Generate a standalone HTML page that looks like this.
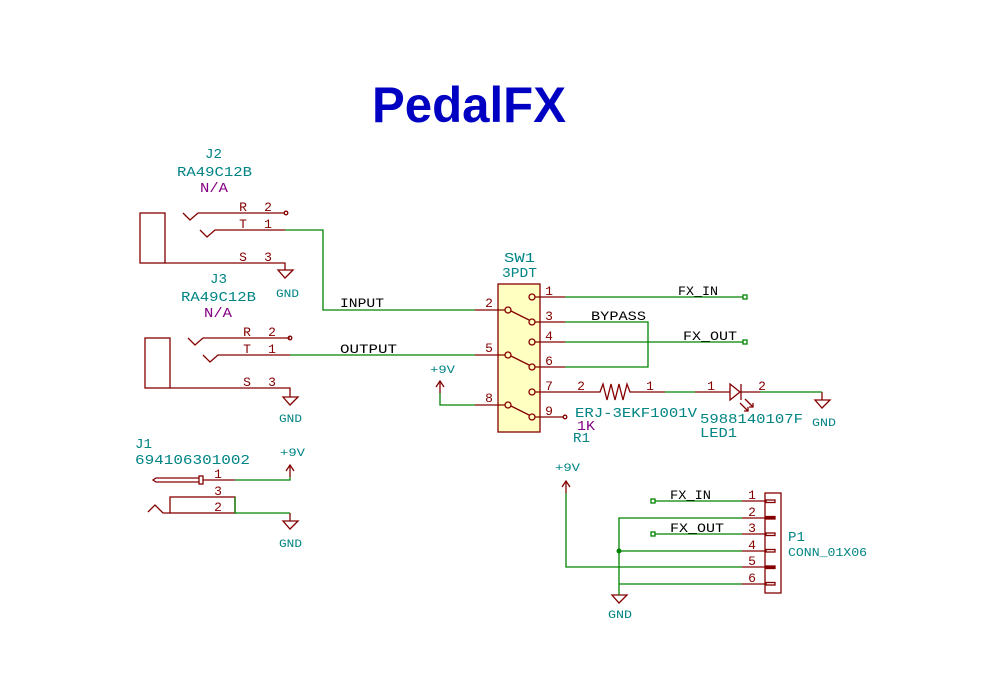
<!DOCTYPE html>
<html><head><meta charset="utf-8"><style>
html,body{margin:0;padding:0;background:#fff}
svg{display:block}
text{font-family:"Liberation Mono","DejaVu Sans Mono",monospace}
</style></head><body>
<svg width="996" height="695" viewBox="0 0 996 695" xmlns="http://www.w3.org/2000/svg">
<g fill="none" stroke-width="1.3">
<g stroke="#840000">
<rect x="140" y="213" width="25" height="50"/>
<polyline points="183,213 190,220 198,213 285,213"/>
<polyline points="200,230 207,237 215,230 285,230"/>
<polyline points="165,263 285,263 285,270"/>
<polygon points="278,270 293,270 285,278"/>
<circle cx="286" cy="213" r="1.8"/>
</g>
<g stroke="#840000">
<rect x="145" y="338" width="25" height="50"/>
<polyline points="188,338 195,345 203,338 290,338"/>
<polyline points="203,355 210,362 218,355 290,355"/>
<polyline points="170,388 290,388 290,397"/>
<polygon points="283,397 298,397 290,405"/>
<circle cx="290" cy="338" r="1.8"/>
</g>
<g stroke="#840000">
<polyline points="199,478 156,478 153,480 156,482 199,482"/>
<rect x="199" y="476" width="4" height="8"/>
<line x1="203" y1="480" x2="235" y2="480"/>
<rect x="170" y="497" width="65" height="16"/>
<polyline points="148,512 155,505 163,513 170,513"/>
<polyline points="290,477 290,465"/>
<polyline points="286,471 290,465 294,471"/>
<line x1="290" y1="513" x2="290" y2="521"/>
<polygon points="283,521 298,521 290,529"/>
</g>
<g stroke="#008400">
<polyline points="235,480 290,480 290,477"/>
<polyline points="235,497 235,513 290,513"/>
<polyline points="285,230 323,230 323,310 475,310"/>
<line x1="290" y1="355" x2="475" y2="355"/>
</g>
<rect x="498" y="284" width="42" height="148" fill="#ffffc2" stroke="#840000"/>
<g stroke="#840000">
<line x1="475" y1="310" x2="505" y2="310"/>
<line x1="475" y1="355" x2="505" y2="355"/>
<line x1="475" y1="405" x2="505" y2="405"/>
<circle cx="508" cy="310" r="3"/><circle cx="508" cy="355" r="3"/><circle cx="508" cy="405" r="3"/>
<circle cx="532" cy="297" r="3"/><circle cx="532" cy="322" r="3"/><circle cx="532" cy="342" r="3"/>
<circle cx="532" cy="367" r="3"/><circle cx="532" cy="392" r="3"/><circle cx="532" cy="417" r="3"/>
<line x1="511" y1="311" x2="529" y2="320"/>
<line x1="511" y1="356" x2="529" y2="365"/>
<line x1="511" y1="406" x2="529" y2="415"/>
<line x1="535" y1="297" x2="565" y2="297"/>
<line x1="535" y1="322" x2="565" y2="322"/>
<line x1="535" y1="342" x2="565" y2="342"/>
<line x1="535" y1="367" x2="565" y2="367"/>
<line x1="535" y1="392" x2="565" y2="392"/>
<line x1="535" y1="417" x2="563" y2="417"/>
<circle cx="565" cy="417" r="1.8"/>
<line x1="440" y1="393" x2="440" y2="381"/>
<polyline points="436,387 440,381 444,387"/>
<polyline points="565,392 600,392 603,384 607,400 611,384 615,400 619,384 623,400 627,384 630,392 665,392"/>
<polyline points="695,392 730,392"/>
<polygon points="730,384 730,400 740,392"/>
<line x1="741" y1="384" x2="741" y2="400"/>
<line x1="741" y1="392" x2="760" y2="392"/>
<line x1="745" y1="399" x2="753" y2="407"/>
<line x1="740" y1="403" x2="748" y2="411"/>
<polyline points="749,407 753,407 753,403"/>
<polyline points="744,411 748,411 748,407"/>
<line x1="822" y1="392" x2="822" y2="400"/>
<polygon points="815,400 830,400 822,408"/>
<rect x="765" y="493" width="16" height="100"/>
<line x1="742" y1="501" x2="766" y2="501"/>
<line x1="742" y1="518" x2="766" y2="518"/>
<line x1="742" y1="534" x2="766" y2="534"/>
<line x1="742" y1="551" x2="766" y2="551"/>
<line x1="742" y1="567" x2="766" y2="567"/>
<line x1="742" y1="584" x2="766" y2="584"/>
<rect x="766" y="500" width="9" height="2.5"/><rect x="766" y="516.5" width="9" height="2.5" fill="#840000"/>
<rect x="766" y="533" width="9" height="2.5"/><rect x="766" y="549.5" width="9" height="2.5"/>
<rect x="766" y="566" width="9" height="2.5" fill="#840000"/><rect x="766" y="582.5" width="9" height="2.5"/>
<line x1="566" y1="493" x2="566" y2="481"/>
<polyline points="562,487 566,481 570,487"/>
<polygon points="612,595 627,595 619,603"/>
</g>
<g stroke="#008400">
<polyline points="565,297 743,297"/>
<polyline points="565,322 648,322 648,367 565,367"/>
<polyline points="565,342 743,342"/>
<polyline points="440,393 440,405 475,405"/>
<line x1="665" y1="392" x2="695" y2="392"/>
<polyline points="760,392 822,392"/>
<line x1="655" y1="501" x2="742" y2="501"/>
<line x1="655" y1="534" x2="742" y2="534"/>
<polyline points="742,518 619,518 619,595"/>
<line x1="619" y1="551" x2="742" y2="551"/>
<polyline points="566,493 566,567 742,567"/>
<line x1="619" y1="584" x2="742" y2="584"/>
<rect x="743" y="295" width="4" height="4"/>
<rect x="743" y="340" width="4" height="4"/>
<rect x="651" y="499" width="4" height="4"/>
<rect x="651" y="532" width="4" height="4"/>
</g>
<circle cx="619" cy="551" r="2.5" fill="#008400"/>
</g>
<text x="372" y="122" font-weight="bold" font-size="50" fill="#0000c2" textLength="194" lengthAdjust="spacingAndGlyphs" style="font-family:'Liberation Sans',sans-serif">PedalFX</text>
<g font-size="14" fill="#008484" lengthAdjust="spacingAndGlyphs">
<text x="205" y="158" textLength="17" lengthAdjust="spacingAndGlyphs">J2</text>
<text x="177" y="176" textLength="75" lengthAdjust="spacingAndGlyphs">RA49C12B</text>
<text x="210" y="283" textLength="17" lengthAdjust="spacingAndGlyphs">J3</text>
<text x="181" y="301" textLength="75" lengthAdjust="spacingAndGlyphs">RA49C12B</text>
<text x="504" y="262" textLength="31" lengthAdjust="spacingAndGlyphs">SW1</text>
<text x="502" y="277" textLength="35" lengthAdjust="spacingAndGlyphs">3PDT</text>
<text x="575" y="417" textLength="122" lengthAdjust="spacingAndGlyphs">ERJ-3EKF1001V</text>
<text x="700" y="423" textLength="103" lengthAdjust="spacingAndGlyphs">5988140107F</text>
<text x="700" y="437" textLength="37" lengthAdjust="spacingAndGlyphs">LED1</text>
<text x="573" y="442" textLength="17" lengthAdjust="spacingAndGlyphs">R1</text>
<text x="135" y="448" textLength="17" lengthAdjust="spacingAndGlyphs">J1</text>
<text x="135" y="464" textLength="115" lengthAdjust="spacingAndGlyphs">694106301002</text>
<text x="788" y="541" textLength="17" lengthAdjust="spacingAndGlyphs">P1</text>
<text x="788" y="556" font-size="12" textLength="79" lengthAdjust="spacingAndGlyphs">CONN_01X06</text>
</g>
<g font-size="14" fill="#840084">
<text x="200" y="192" textLength="28" lengthAdjust="spacingAndGlyphs">N/A</text>
<text x="204" y="317" textLength="28" lengthAdjust="spacingAndGlyphs">N/A</text>
<text x="577" y="430" textLength="18" lengthAdjust="spacingAndGlyphs">1K</text>
</g>
<g font-size="11" fill="#008484">
<text x="276" y="297" textLength="23" lengthAdjust="spacingAndGlyphs">GND</text>
<text x="279" y="422" textLength="23" lengthAdjust="spacingAndGlyphs">GND</text>
<text x="279" y="547" textLength="23" lengthAdjust="spacingAndGlyphs">GND</text>
<text x="812" y="426" textLength="24" lengthAdjust="spacingAndGlyphs">GND</text>
<text x="608" y="618" textLength="24" lengthAdjust="spacingAndGlyphs">GND</text>
<text x="280" y="456" textLength="25" lengthAdjust="spacingAndGlyphs">+9V</text>
<text x="430" y="373" textLength="25" lengthAdjust="spacingAndGlyphs">+9V</text>
<text x="555" y="471" textLength="25" lengthAdjust="spacingAndGlyphs">+9V</text>
</g>
<g font-size="13" fill="#840000" text-anchor="middle">
<text x="243" y="211">R</text><text x="268" y="211">2</text>
<text x="243" y="228">T</text><text x="268" y="228">1</text>
<text x="243" y="261">S</text><text x="268" y="261">3</text>
<text x="247" y="336">R</text><text x="272" y="336">2</text>
<text x="247" y="353">T</text><text x="272" y="353">1</text>
<text x="247" y="386">S</text><text x="272" y="386">3</text>
<text x="218" y="478">1</text><text x="218" y="495">3</text><text x="218" y="511">2</text>
<text x="549" y="295">1</text><text x="549" y="320">3</text><text x="549" y="340">4</text>
<text x="549" y="365">6</text><text x="549" y="390">7</text><text x="549" y="415">9</text>
<text x="489" y="307">2</text><text x="489" y="352">5</text><text x="489" y="402">8</text>
<text x="581" y="390">2</text><text x="650" y="390">1</text>
<text x="711" y="390">1</text><text x="762" y="390">2</text>
<text x="752" y="499">1</text><text x="752" y="516">2</text><text x="752" y="532">3</text>
<text x="752" y="549">4</text><text x="752" y="565">5</text><text x="752" y="582">6</text>
</g>
<g font-size="13" fill="#000">
<text x="340" y="307" textLength="44" lengthAdjust="spacingAndGlyphs">INPUT</text>
<text x="340" y="353" textLength="57" lengthAdjust="spacingAndGlyphs">OUTPUT</text>
<text x="591" y="320" textLength="55" lengthAdjust="spacingAndGlyphs">BYPASS</text>
<text x="678" y="295" textLength="40" lengthAdjust="spacingAndGlyphs">FX_IN</text>
<text x="683" y="340" textLength="54" lengthAdjust="spacingAndGlyphs">FX_OUT</text>
<text x="670" y="499" textLength="41" lengthAdjust="spacingAndGlyphs">FX_IN</text>
<text x="670" y="532" textLength="54" lengthAdjust="spacingAndGlyphs">FX_OUT</text>
</g>
</svg>
</body></html>
